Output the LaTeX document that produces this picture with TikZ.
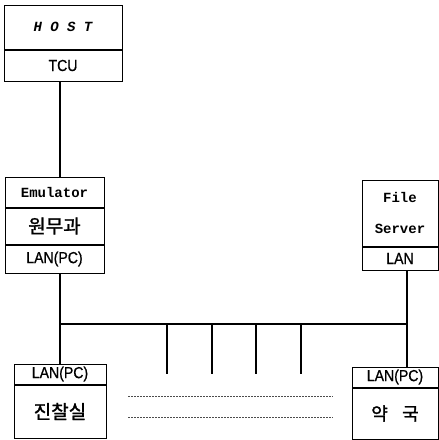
\documentclass[tikz,border=0pt]{standalone}
\usepackage{fontspec}
\setmainfont{Liberation Sans}
\newfontfamily\monofont{Liberation Mono}
\newfontfamily\narrowfont{Liberation Sans}[FakeStretch=0.88, FakeBold=0.8]
\newfontfamily\krfont{Noto Sans CJK KR}[FakeBold=1.5]
\usepackage{tikz}
\usetikzlibrary{positioning}

\begin{document}
\begin{tikzpicture}[x=1pt, y=-1pt,
    cell/.style={draw, line width=1pt, inner sep=0pt, align=center},
    mono/.style={font=\monofont\bfseries\fontsize{14}{17}\selectfont},
    lanfont/.style={font=\narrowfont\fontsize{16}{18}\selectfont},
    kor/.style={font=\krfont\fontsize{19}{21}\selectfont},
    wire/.style={line width=1.2pt},
    dots/.style={line width=0.6pt, dash pattern=on 2pt off 1pt, black!70},
]
  \useasboundingbox (0,0) rectangle (439,440);

  % host
  \node[cell, font=\monofont\bfseries\itshape\fontsize{14}{17}\selectfont,
        minimum width=118pt, minimum height=44pt] (host) at (63,27) {H O S T};
  \node[cell, lanfont, minimum width=118pt, minimum height=31pt, below=0pt of host] (tcu) {TCU};

  % emulator pc
  \node[cell, mono, minimum width=99pt, minimum height=30pt] (emu) at (54.5,192) {Emulator};
  \node[cell, kor, minimum width=99pt, minimum height=36pt, below=0pt of emu] (dept) {원무과};
  \node[cell, lanfont, minimum width=99pt, minimum height=28pt, below=0pt of dept] (lanemu) {LAN(PC)};

  % file server
  \node[cell, font=\monofont\bfseries\fontsize{14}{31}\selectfont,
        minimum width=76pt, minimum height=66pt] (fs) at (400,213) {File\\Server};
  \node[cell, lanfont, minimum width=76pt, minimum height=23pt, below=0pt of fs] (lan) {LAN};

  % terminals
  \node[cell, lanfont, minimum width=92pt, minimum height=20pt] (pc1) at (60,374) {LAN(PC)};
  \node[cell, kor, minimum width=92pt, minimum height=53pt, below=0pt of pc1] (exam) {진찰실};
  \node[cell, lanfont, minimum width=86pt, minimum height=20pt] (pc2) at (395,377) {LAN(PC)};
  \node[cell, kor, font=\krfont\fontsize{18}{20}\selectfont,
        minimum width=86pt, minimum height=51pt, below=0pt of pc2] (pharm) {약\hspace{0.8em}국};

  % lines
  \coordinate (busL) at (60,324);
  \coordinate (busR) at (407,324);
  \draw[wire] (tcu.south -| pc1.north) -- (emu.north -| pc1.north);
  \draw[wire] (lanemu.south -| busL) -- (pc1.north -| busL);
  \draw[wire] (busL) -- (busR);
  \draw[wire] (lan.south -| busR) -- (pc2.north -| busR);
  \foreach \x [count=\i] in {167,212,256,301} {
    \coordinate (d\i) at (\x,324);
    \coordinate (e\i) at (\x,374);
    \draw[wire] (d\i) -- (e\i);
  }

  \coordinate (a1) at (128,396);
  \coordinate (b1) at (333,396);
  \coordinate (a2) at (128,417);
  \coordinate (b2) at (333,417);
  \draw[dots] (a1) -- (b1);
  \draw[dots] (a2) -- (b2);
\end{tikzpicture}
\end{document}
